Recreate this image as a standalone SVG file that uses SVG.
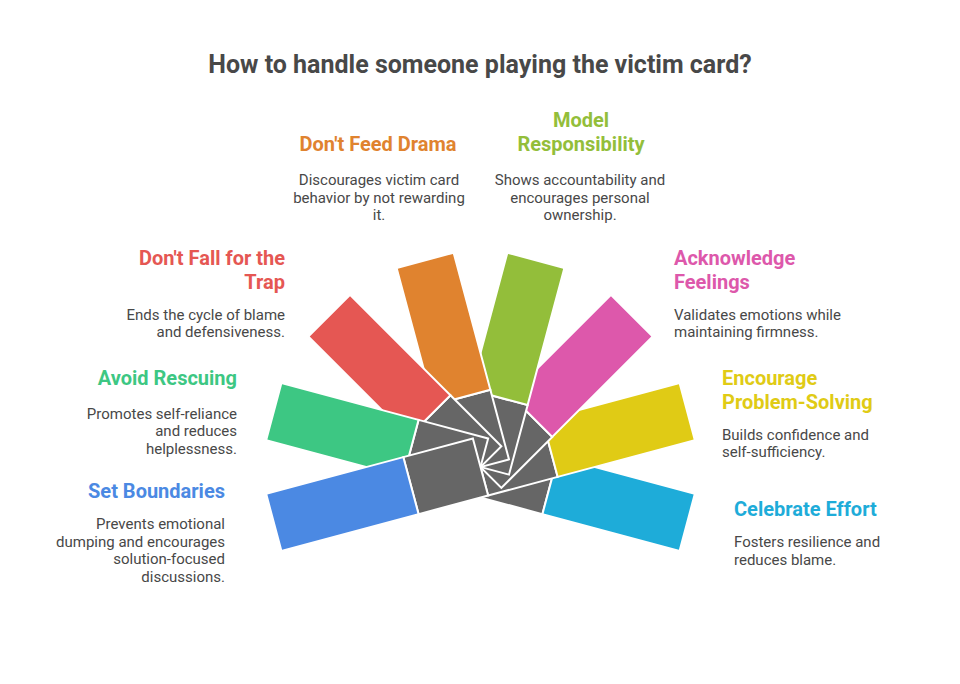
<svg xmlns="http://www.w3.org/2000/svg" width="960" height="684" viewBox="0 0 960 684">
<style>
.title{font-family:Roboto,"Liberation Sans",sans-serif;font-weight:bold;font-size:25px;fill:#484848}
.h{font-family:Roboto,"Liberation Sans",sans-serif;font-weight:bold;font-size:20px}
.d{font-family:Roboto,"Liberation Sans",sans-serif;font-size:15px;fill:#484848}
.g{fill:#666666}
.blade rect{stroke:#ffffff;stroke-width:2;stroke-linejoin:miter}
.m{text-anchor:middle}.r{text-anchor:end}.l{text-anchor:start}
</style>
<rect width="960" height="684" fill="#ffffff"/>
<text class="title m" x="480" y="73">How to handle someone playing the victim card?</text>
<g id="blades">
<g id="celebrate-effort" class="blade" transform="rotate(15 480.5 467)">
<rect class="g" x="480.5" y="437.5" width="72" height="59"/>
<rect x="552.5" y="437.5" width="142" height="59" fill="#1EACD9"/>
</g>
<g id="encourage-problem-solving" class="blade" transform="rotate(-15 480.5 467)">
<rect class="g" x="480.5" y="437.5" width="72" height="59"/>
<rect x="552.5" y="437.5" width="142" height="59" fill="#E0CB15"/>
</g>
<g id="acknowledge-feelings" class="blade" transform="rotate(-45 480.5 467)">
<rect class="g" x="480.5" y="437.5" width="72" height="59"/>
<rect x="552.5" y="437.5" width="142" height="59" fill="#DD58AB"/>
</g>
<g id="model-responsibility" class="blade" transform="rotate(-75 480.5 467)">
<rect class="g" x="480.5" y="437.5" width="72" height="59"/>
<rect x="552.5" y="437.5" width="142" height="59" fill="#93BE3A"/>
</g>
<g id="dont-feed-drama" class="blade" transform="rotate(-105 480.5 467)">
<rect class="g" x="480.5" y="437.5" width="72" height="59"/>
<rect x="552.5" y="437.5" width="142" height="59" fill="#E0832F"/>
</g>
<g id="dont-fall-for-the-trap" class="blade" transform="rotate(-135 480.5 467)">
<rect class="g" x="480.5" y="437.5" width="72" height="59"/>
<rect x="552.5" y="437.5" width="142" height="59" fill="#E55753"/>
</g>
<g id="avoid-rescuing" class="blade" transform="rotate(-165 480.5 467)">
<rect class="g" x="480.5" y="437.5" width="72" height="59"/>
<rect x="552.5" y="437.5" width="142" height="59" fill="#3DC783"/>
</g>
<g id="set-boundaries" class="blade" transform="rotate(165 480.5 467)">
<rect class="g" x="480.5" y="437.5" width="72" height="59"/>
<rect x="552.5" y="437.5" width="142" height="59" fill="#4B89E3"/>
</g>
</g>
<g id="labels">
<g id="label-dont-feed-drama">
<text class="h m" x="378" y="151" fill="#E0832F">Don't Feed Drama</text>
<text class="d m" x="379" y="185">Discourages victim card</text>
<text class="d m" x="379" y="202.5">behavior by not rewarding</text>
<text class="d m" x="379" y="220">it.</text>
</g>
<g id="label-model-responsibility">
<text class="h m" x="581" y="127" fill="#93BE3A">Model</text>
<text class="h m" x="581" y="151" fill="#93BE3A">Responsibility</text>
<text class="d m" x="580" y="185">Shows accountability and</text>
<text class="d m" x="580" y="202.5">encourages personal</text>
<text class="d m" x="580" y="220">ownership.</text>
</g>
<g id="label-dont-fall-for-the-trap">
<text class="h r" x="285" y="265" fill="#E55753">Don't Fall for the</text>
<text class="h r" x="285" y="289" fill="#E55753">Trap</text>
<text class="d r" x="285" y="319.5">Ends the cycle of blame</text>
<text class="d r" x="285" y="337">and defensiveness.</text>
</g>
<g id="label-acknowledge-feelings">
<text class="h l" x="674" y="265" fill="#DD58AB">Acknowledge</text>
<text class="h l" x="674" y="289" fill="#DD58AB">Feelings</text>
<text class="d l" x="674" y="319.5">Validates emotions while</text>
<text class="d l" x="674" y="337">maintaining firmness.</text>
</g>
<g id="label-avoid-rescuing">
<text class="h r" x="237" y="385" fill="#3DC783">Avoid Rescuing</text>
<text class="d r" x="237" y="418.5">Promotes self-reliance</text>
<text class="d r" x="237" y="436">and reduces</text>
<text class="d r" x="237" y="453.5">helplessness.</text>
</g>
<g id="label-encourage-problem-solving">
<text class="h l" x="722" y="385" fill="#E0CB15">Encourage</text>
<text class="h l" x="722" y="409" fill="#E0CB15">Problem-Solving</text>
<text class="d l" x="722" y="439.5">Builds confidence and</text>
<text class="d l" x="722" y="457">self-sufficiency.</text>
</g>
<g id="label-set-boundaries">
<text class="h r" x="225" y="498" fill="#4B89E3">Set Boundaries</text>
<text class="d r" x="225" y="529">Prevents emotional</text>
<text class="d r" x="225" y="546.5">dumping and encourages</text>
<text class="d r" x="225" y="564">solution-focused</text>
<text class="d r" x="225" y="581.5">discussions.</text>
</g>
<g id="label-celebrate-effort">
<text class="h l" x="734" y="516" fill="#1EACD9">Celebrate Effort</text>
<text class="d l" x="734" y="547">Fosters resilience and</text>
<text class="d l" x="734" y="564.5">reduces blame.</text>
</g>
</g>
</svg>
